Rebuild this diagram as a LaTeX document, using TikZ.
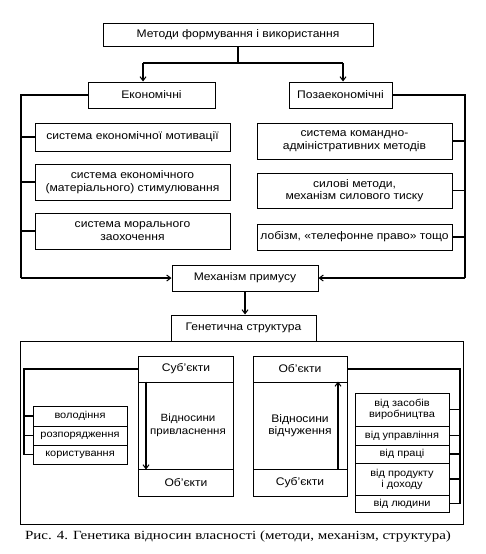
\documentclass[tikz,border=0pt]{standalone}
\usepackage{fontspec}
\setmainfont[FakeStretch=1.1]{Liberation Sans}
\newfontfamily\capfont[FakeStretch=1.2]{Liberation Serif}
\usetikzlibrary{arrows.meta}
\tikzset{
  box/.style={draw, line width=1pt, inner sep=0pt, align=center, font=\fontsize{11}{12.5}\selectfont, fill=white},
  sbox/.style={draw, line width=0.9pt, inner sep=0pt, align=center, font=\fontsize{10}{11}\selectfont, fill=white},
  conn/.style={line width=1.1pt},
  arr/.style={line width=1.1pt, -{Straight Barb[length=4pt,width=6pt,line width=1pt]}}
}
\begin{document}
\begin{tikzpicture}[x=1pt,y=-1pt]
\useasboundingbox (0,0) rectangle (486,554);
% top
\node[box, minimum width=270pt, minimum height=23pt] (top) at (238,34.5) {Методи формування і використання};
\node[box, minimum width=127pt, minimum height=26pt] (eco) at (151.5,95) {Економічні};
\node[box, minimum width=103pt, minimum height=26pt] (neco) at (340.5,95) {Позаекономічні};
\coordinate (tj) at (238,63);
\coordinate (ja) at (143,63);
\coordinate (jb) at (343,63);
\draw[conn] (top.south) -- (tj);
\draw[conn] (ja) -- (jb);
\draw[arr] (ja) -- (ja |- eco.north);
\draw[arr] (jb) -- (jb |- neco.north);
% left boxes
\node[box, minimum width=195pt, minimum height=28pt] (L1) at (132.5,137) {система економічної мотивації};
\node[box, minimum width=195pt, minimum height=36pt] (L2) at (132.5,182) {система економічного\\(матеріального) стимулювання};
\node[box, minimum width=195pt, minimum height=36pt] (L3) at (132.5,231) {система морального\\заохочення};
% right boxes
\node[box, minimum width=195pt, minimum height=36pt] (R1) at (354.5,141) {система командно-\\адміністративних методів};
\node[box, minimum width=195pt, minimum height=35pt] (R2) at (354.5,190.5) {силові методи,\\механізм силового тиску};
\node[box, minimum width=195pt, minimum height=26pt] (R3) at (354.5,237) {лобізм, «телефонне право» тощо};
% mechanism
\node[box, minimum width=146pt, minimum height=26pt] (mech) at (245,278) {Механізм примусу};
\coordinate (lx) at (21,0);
\coordinate (rx) at (465,0);
\draw[conn] (eco.west) -- (eco.west -| lx) -- (lx |- mech.west);
\draw[arr] (lx |- mech.west) -- (mech.west);
\draw[conn] (neco.east) -- (neco.east -| rx) -- (rx |- mech.east);
\draw[arr] (rx |- mech.east) -- (mech.east);
\foreach \n in {L1,L2,L3} \draw[conn] (\n.west) -- (\n.west -| lx);
\foreach \n in {R1,R2,R3} \draw[conn] (\n.east) -- (\n.east -| rx);
% genetic structure
\node[draw, line width=1pt, minimum width=443pt, minimum height=183pt, inner sep=0pt] (big) at (241.5,432.5) {};
\node[box, minimum width=145pt, minimum height=26pt] (gen) at (243.5,328) {Генетична структура};
\draw[arr] (mech.south) -- (mech.south |- gen.north);
% left column
\node[box, minimum width=95pt, minimum height=26pt] (s1) at (186,369) {Суб'єкти};
\node[box, minimum width=95pt, minimum height=87pt, font=\fontsize{10.5}{12.5}\selectfont] (r1) at (186,425.5) {\hspace*{4pt}Відносини\\\hspace*{4pt}привласнення};
\node[box, minimum width=95pt, minimum height=27pt] (o1) at (186,482.5) {Об'єкти};
\coordinate (ax1) at (146,0);
\draw[arr] (r1.north -| ax1) -- (r1.south -| ax1);
% right column
\node[box, minimum width=94pt, minimum height=26pt] (o2) at (300,369) {Об'єкти};
\node[box, minimum width=94pt, minimum height=87pt] (r2) at (300,425.5) {Відносини\\відчуження};
\node[box, minimum width=94pt, minimum height=27pt] (s2) at (300,482.5) {Суб'єкти};
\coordinate (ax2) at (338,0);
\draw[arr] (r2.south -| ax2) -- (r2.north -| ax2);
% left small boxes
\node[sbox, minimum width=94pt, minimum height=20pt] (vol) at (80,416) {володіння};
\node[sbox, minimum width=94pt, minimum height=19pt] (roz) at (80,435.5) {розпорядження};
\node[sbox, minimum width=94pt, minimum height=19pt] (kor) at (80,454.5) {користування};
\coordinate (lx2) at (24,0);
\draw[conn] (s1.west) -- (s1.west -| lx2) -- (lx2 |- kor.west) -- (kor.west);
\foreach \n in {vol,roz} \draw[conn] (\n.west) -- (\n.west -| lx2);
% right small boxes
\node[sbox, minimum width=94pt, minimum height=33pt] (zas) at (402,409.5) {від засобів\\виробництва};
\node[sbox, minimum width=94pt, minimum height=19pt] (upr) at (402,435.5) {від управління};
\node[sbox, minimum width=94pt, minimum height=18pt] (pra) at (402,454) {від праці};
\node[sbox, minimum width=94pt, minimum height=32pt] (prod) at (402,479) {від продукту\\і доходу};
\node[sbox, minimum width=94pt, minimum height=17pt] (lud) at (402,503.5) {від людини};
\coordinate (rx2) at (460,0);
\draw[conn] (o2.east) -- (o2.east -| rx2) -- (rx2 |- lud.east) -- (lud.east);
\foreach \n in {zas,upr,pra,prod} \draw[conn] (\n.east) -- (\n.east -| rx2);
% caption
\node[font=\capfont\fontsize{12.5}{14}\selectfont, inner sep=0pt] (cap) at (238,537) {Рис. 4. Генетика відносин власності (методи, механізм, структура)};
\end{tikzpicture}
\end{document}
